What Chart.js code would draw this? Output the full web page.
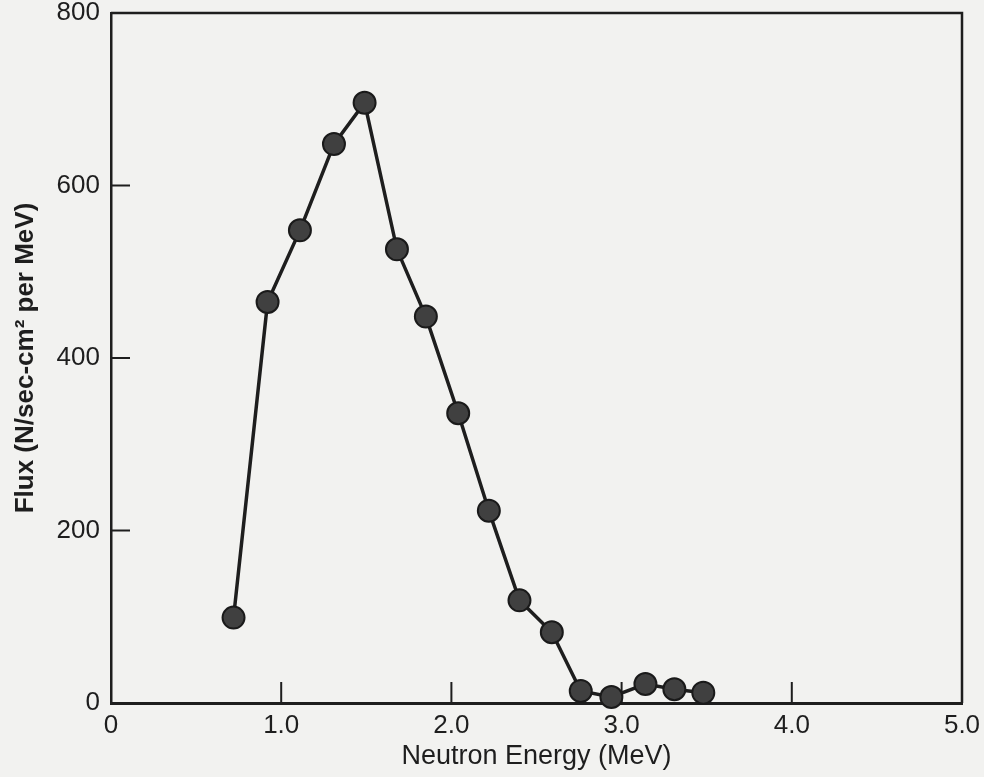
<!DOCTYPE html>
<html>
<head>
<meta charset="utf-8">
<title>Neutron flux spectrum</title>
<script src="https://cdn.jsdelivr.net/npm/chart.js@4/dist/chart.umd.min.js"></script>
<style>
    html, body { margin: 0; padding: 0; background: #f2f2f0; }
    #wrap { width: 984px; height: 777px; }
</style>
</head>
<body>
<div id="wrap"><canvas id="fluxChart" width="984" height="777"></canvas></div>
<script>
// neutron energy (MeV) and flux (N/sec-cm2 per MeV)
const energy = [0.72, 0.92, 1.11, 1.31, 1.49, 1.68, 1.85, 2.04, 2.22, 2.40, 2.59, 2.76, 2.94, 3.14, 3.31, 3.48];
const flux = [99, 465, 548, 648, 696, 526, 448, 336, 223, 119, 82, 14, 7, 22, 16, 12];

const xTicks = [0, 1, 2, 3, 4, 5];
const yTicks = [0, 200, 400, 600, 800];

const ink = '#1e1e1e';

// inward tick marks and the top/right sides of the frame
const frameTicks = {
    id: 'frameTicks',
    beforeDatasetsDraw(chart) {
        const { ctx, chartArea: a, scales: { x, y } } = chart;
        ctx.save();
        ctx.strokeStyle = ink;
        ctx.lineWidth = 2.5;
        ctx.beginPath();
        ctx.moveTo(a.left, a.top);
        ctx.lineTo(a.right, a.top);
        ctx.lineTo(a.right, a.bottom);
        ctx.stroke();

        ctx.lineWidth = 2;
        ctx.beginPath();
        xTicks.slice(1, -1).forEach(v => {
            const px = x.getPixelForValue(v);
            ctx.moveTo(px, a.bottom);
            ctx.lineTo(px, a.bottom - 21);
        });
        yTicks.slice(1, -1).forEach(v => {
            const py = y.getPixelForValue(v);
            ctx.moveTo(a.left, py);
            ctx.lineTo(a.left + 19, py);
        });
        ctx.stroke();
        ctx.restore();
    }
};

const ctx = document.getElementById('fluxChart').getContext('2d');
const fluxChart = new Chart(ctx, {
    type: 'scatter',
    data: {
        datasets: [
            {
                label: 'Flux',
                data: energy.map((e, i) => ({ x: e, y: flux[i] })),
                showLine: true,
                borderColor: ink,
                borderWidth: 3.5,
                pointRadius: 11,
                pointBackgroundColor: '#404040',
                pointBorderColor: '#1a1a1a',
                pointBorderWidth: 2,
                clip: false
            }
        ]
    },
    options: {
        responsive: false,
        animation: false,
        events: [],
        layout: {
            padding: { top: 13, right: 22, left: 0, bottom: 0 }
        },
        plugins: {
            legend: { display: false },
            tooltip: { enabled: false }
        },
        scales: {
            x: {
                type: 'linear',
                min: 0,
                max: 5,
                afterFit: scale => {
                    scale.height = 74;
                    scale.paddingLeft = 0;
                    scale.paddingRight = 0;
                },
                afterBuildTicks: scale => { scale.ticks = xTicks.map(v => ({ value: v })); },
                grid: { display: false, drawTicks: false },
                border: { display: true, color: ink, width: 3 },
                ticks: {
                    color: ink,
                    padding: 7,
                    maxRotation: 0,
                    font: { family: 'Liberation Sans', size: 26 },
                    callback: v => (v === 0 ? '0' : v.toFixed(1))
                },
                title: {
                    display: true,
                    text: 'Neutron Energy (MeV)',
                    color: ink,
                    padding: { top: 0, bottom: 4 },
                    font: { family: 'Liberation Sans', size: 27 }
                }
            },
            y: {
                min: 0,
                max: 800,
                afterFit: scale => {
                    scale.width = 111;
                    scale.paddingTop = 0;
                    scale.paddingBottom = 0;
                },
                afterBuildTicks: scale => { scale.ticks = yTicks.map(v => ({ value: v })); },
                grid: { display: false, drawTicks: false },
                border: { display: true, color: ink, width: 2.5 },
                ticks: {
                    color: ink,
                    padding: 11,
                    font: { family: 'Liberation Sans', size: 26 }
                },
                title: {
                    display: true,
                    text: 'Flux (N/sec-cm² per MeV)',
                    color: ink,
                    padding: { top: 10, bottom: 0 },
                    font: { family: 'Liberation Sans', size: 26, weight: 'bold' }
                }
            }
        }
    },
    plugins: [frameTicks]
});
</script>
</body>
</html>
